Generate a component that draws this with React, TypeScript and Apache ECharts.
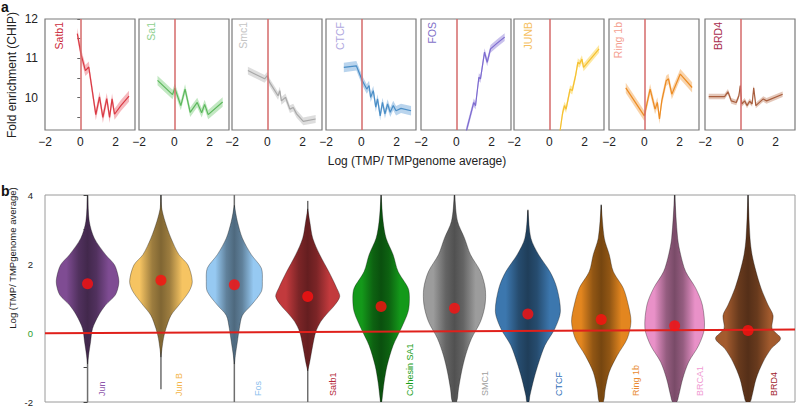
import React, { useEffect, useRef } from 'react';
import * as echarts from 'echarts';

const FONT = '"Liberation Sans", Arial, Helvetica, sans-serif';

// ---------------- Panel a data ----------------
const panelNames = ['Satb1', 'Sa1', 'Smc1', 'CTCF', 'FOS', 'JUNB', 'Ring 1b', 'BRD4'];

const satb1X = [-0.17, 0.04, 0.29, 0.48, 0.88, 1.09, 1.28, 1.5, 1.66, 1.8, 1.94, 2.3, 2.76];
const satb1Y = [11.63, 11.11, 10.69, 10.78, 9.57, 10.02, 9.5, 9.98, 9.5, 9.97, 9.58, 9.8, 10.04];

const sa1X = [-0.95, -0.1, 0.03, 0.37, 0.61, 0.9, 1.3, 1.55, 1.72, 1.92, 2.74];
const sa1Y = [10.44, 10.08, 10.24, 9.8, 10.22, 9.63, 9.88, 9.62, 9.83, 9.57, 9.89];

const smc1X = [-1.1, -0.15, 0.0, 0.13, 0.61, 0.71, 0.8, 1.03, 1.28, 1.47, 1.66, 2.04, 2.74];
const smc1Y = [10.69, 10.48, 10.56, 10.39, 10.05, 10.18, 9.92, 10.01, 9.71, 9.75, 9.59, 9.4, 9.46];

const ctcfX = [-0.99, -0.28, 0.06, 0.31, 0.44, 0.53, 0.68, 0.82, 0.92, 1.07, 1.2, 1.34, 1.49, 1.64, 1.81, 1.97, 2.25, 2.82];
const ctcfY = [10.77, 10.81, 10.43, 10.22, 10.31, 10.01, 10.18, 9.76, 9.97, 9.54, 9.88, 9.59, 9.84, 9.63, 9.8, 9.67, 9.73, 9.67];

const fosX = [0.57, 0.99, 1.09, 1.28, 1.37, 1.6, 1.75, 1.94, 2.3, 2.74];
const fosY = [9.16, 9.88, 9.8, 10.52, 10.48, 11.16, 10.9, 11.24, 11.38, 11.54];

const junbX = [0.61, 0.76, 0.86, 0.95, 1.18, 1.3, 1.49, 1.62, 1.71, 1.85, 1.94, 2.82];
const junbY = [9.16, 9.63, 9.8, 9.71, 10.22, 10.18, 10.56, 10.9, 10.86, 10.98, 10.77, 11.24];

const ring1bX = [-1.05, 0.0, 0.33, 0.61, 0.74, 0.86, 0.99, 1.24, 1.37, 1.56, 2.04, 2.71];
const ring1bY = [10.25, 9.54, 10.22, 9.71, 9.88, 9.46, 9.92, 10.43, 10.48, 10.09, 10.6, 10.26];

const brd4X = [-1.79, -0.89, -0.7, -0.51, -0.23, -0.08, 0.0, 0.08, 0.25, 0.38, 0.53, 0.67, 0.76, 0.88, 1.3, 1.49, 2.4];
const brd4Y = [10.03, 10.03, 10.15, 9.92, 9.88, 10.05, 10.31, 9.84, 9.92, 9.8, 9.91, 9.84, 10.25, 9.8, 9.97, 9.92, 10.09];

const panelXs = [satb1X, sa1X, smc1X, ctcfX, fosX, junbX, ring1bX, brd4X];
const panelYs = [satb1Y, sa1Y, smc1Y, ctcfY, fosY, junbY, ring1bY, brd4Y];
const panelCI = [0.14, 0.12, 0.1, 0.12, 0.1, 0.1, 0.13, 0.07];

const aXTicks = [-2, 0, 2];
const aYLabels = [10, 11, 12];
const aYTicks = [9.5, 10, 10.5, 11, 11.5, 12];

// ---------------- Panel b data ----------------
const violinNames = ['Jun', 'Jun B', 'Fos', 'Satb1', 'Cohesin SA1', 'SMC1', 'CTCF', 'Ring 1b', 'BRCA1', 'BRD4'];
const violinMeans = [1.43, 1.53, 1.4, 1.06, 0.77, 0.72, 0.55, 0.39, 0.21, 0.07];
const whiskerMin = [-2, -1.63, -2, -2, -2, -2, -2, -2, -2, -2];
const whiskerMax = [4, 4, 4, 3.83, 4, 4, 3.57, 3.72, 4, 4];
// [y, density] pairs, top to bottom
const junProfile = [[4, 0], [3.24, 1.7], [2.75, 6.7], [2.27, 18], [1.97, 27], [1.59, 31], [1.39, 31], [1.1, 27.7], [0.81, 18], [0.51, 11], [0.13, 5], [-0.26, 3], [-0.65, 1], [-0.9, 0]];
const junBProfile = [[4, 0], [3.63, 0.7], [3.24, 4], [2.75, 10], [2.27, 18], [1.97, 27], [1.49, 31.3], [1.2, 28], [0.81, 18], [0.51, 10], [0.13, 5], [-0.16, 2.5], [-0.46, 1], [-0.7, 0]];
const fosProfile = [[3.7, 0], [3.24, 3], [2.75, 8], [2.27, 17], [1.88, 27], [1.49, 28], [1.2, 27], [0.81, 17], [0.51, 8], [0.13, 5], [-0.26, 3], [-0.65, 1], [-0.9, 0]];
const satb1Profile = [[3.6, 0], [3.24, 2], [2.75, 5], [2.27, 12], [1.78, 21], [1.3, 29], [1.06, 32], [0.81, 27], [0.55, 19], [0.33, 13], [0.03, 8], [-0.36, 5], [-0.84, 2], [-1.1, 0]];
const cohesinProfile = [[4, 0], [3.24, 2], [2.75, 5], [2.27, 12], [1.78, 17], [1.3, 27], [1.01, 28.3], [0.62, 27], [0.13, 20], [-0.36, 12], [-0.94, 6], [-1.43, 3], [-1.92, 1], [-2, 0.5]];
const smc1Profile = [[4, 0], [3.24, 3], [2.75, 10], [2.27, 16], [1.78, 26], [1.3, 30.7], [0.81, 30.5], [0.33, 26], [-0.16, 17], [-0.65, 11], [-1.13, 7], [-1.62, 4], [-2, 2]];
const ctcfProfile = [[3.55, 0], [2.75, 3], [2.27, 10.7], [1.78, 22], [1.3, 29], [0.62, 32.5], [0.13, 27], [-0.36, 17], [-0.84, 11], [-1.33, 6], [-1.82, 2], [-2, 1]];
const ring1bProfile = [[3.7, 0], [2.75, 3], [2.27, 8], [1.78, 12], [1.3, 22], [0.81, 27], [0.33, 29.7], [-0.16, 26], [-0.65, 16], [-1.13, 8], [-1.62, 4], [-2, 2]];
const brca1Profile = [[4, 0], [2.75, 3], [2.27, 6], [1.78, 11], [1.3, 21], [0.81, 27.7], [0.13, 29.7], [-0.36, 24], [-0.84, 14], [-1.33, 8], [-1.82, 4], [-2, 2]];
const brd4Profile = [[4, 0], [2.75, 2], [2.27, 4], [1.78, 8], [1.3, 13], [0.81, 20], [0.51, 25], [0.13, 24], [-0.16, 32.5], [-0.46, 23], [-0.84, 15], [-1.33, 8], [-1.82, 4], [-2, 2]];
const violinProfiles = [junProfile, junBProfile, fosProfile, satb1Profile, cohesinProfile, smc1Profile, ctcfProfile, ring1bProfile, brca1Profile, brd4Profile];
const baselineY = [-0.01, 0.1];
const bYLabels = [-2, 0, 2, 4];

// ---------------- styles / layout ----------------
const panelLineColors = ['#d93a44', '#5cb85c', '#a8a8a8', '#4a8ec6', '#7d6bd0', '#f5c030', '#ec8b22', '#a85e3e'];
const panelBandColors = ['rgba(235,100,110,0.45)', 'rgba(120,205,120,0.45)', 'rgba(175,175,175,0.42)', 'rgba(100,160,215,0.45)', 'rgba(135,118,212,0.45)', 'rgba(252,210,70,0.5)', 'rgba(242,160,70,0.45)', 'rgba(195,130,100,0.45)'];
const panelLabelColors = ['#cc2c3c', '#8fd08f', '#c4c4c4', '#b0a8e0', '#7f70c8', '#f5c060', '#f4a090', '#a82c4c'];
const A_LEFTS = [45, 139, 232, 326, 421, 514, 609, 705];
const A_LABEL_X = [59, 151, 243, 340, 432, 528, 618, 718];
const A_W = 90;
const A_TOP = 19;
const A_H = 111;

const violinColors = ['#7f4c93', '#f6c462', '#96c9f2', '#c23a3d', '#14991a', '#9c9c9c', '#3c77ae', '#e3861f', '#e991c8', '#a35b2e'];
const violinLabelColors = ['#8d55aa', '#f3b54a', '#8cc0ee', '#b4283a', '#19a019', '#a0a0a0', '#2f6fb8', '#e98a30', '#f09ad2', '#a01a2a'];
const labelDx = [0.2, 0.25, 0.32, 0.35, 0.39, 0.42, 0.42, 0.47, 0.35, 0.35];
const DENSITY_SCALE = 1 / 73.3;
const B_XMIN = -0.58;
const B_XMAX = 9.64;

function minusFmt(v: number) {
  return v < 0 ? '\u2212' + Math.abs(v) : String(v);
}

function shade(hex: string, f: number) {
  const n = parseInt(hex.slice(1), 16);
  const r = Math.round(((n >> 16) & 255) * (1 - f));
  const g = Math.round(((n >> 8) & 255) * (1 - f));
  const b = Math.round((n & 255) * (1 - f));
  return `rgb(${r},${g},${b})`;
}

export default function App() {
  const ref = useRef<HTMLDivElement>(null);
  useEffect(() => {
    if (!ref.current) return;
    const chart = echarts.init(ref.current, undefined, { renderer: 'svg' });

    const grids: any[] = [];
    const xAxes: any[] = [];
    const yAxes: any[] = [];
    const series: any[] = [];
    const graphics: any[] = [];

    for (let k = 0; k < 8; k++) {
      grids.push({ left: A_LEFTS[k], top: A_TOP, width: A_W, height: A_H, show: true, borderColor: '#7a7a7a', borderWidth: 1.2, backgroundColor: 'transparent' });
      xAxes.push({
        gridIndex: k, type: 'value', min: -2, max: 3.1,
        axisLine: { show: false }, axisTick: { show: false }, splitLine: { show: false },
        axisLabel: { customValues: aXTicks, formatter: minusFmt, fontSize: 12, color: '#222', margin: 6, fontFamily: FONT },
      });
      yAxes.push({
        gridIndex: k, type: 'value', min: 9.18, max: 12, show: k === 0,
        axisLine: { show: false }, splitLine: { show: false },
        axisTick: { show: true, customValues: aYTicks, length: 3, lineStyle: { color: '#666' } },
        axisLabel: { customValues: aYLabels, fontSize: 12, color: '#222', margin: 7, fontFamily: FONT },
      });
      const xs = panelXs[k];
      const ys = panelYs[k];
      const ci = panelCI[k];
      series.push({
        type: 'custom', xAxisIndex: k, yAxisIndex: k, clip: true, silent: true, z: 1,
        data: [[0, 10]],
        renderItem: (params: any, api: any) => {
          const up = xs.map((x, j) => api.coord([x, ys[j] + ci]));
          const lo = xs.map((x, j) => api.coord([x, ys[j] - ci])).reverse();
          return { type: 'polygon', shape: { points: up.concat(lo) }, style: { fill: panelBandColors[k] } };
        },
      });
      series.push({
        type: 'line', xAxisIndex: k, yAxisIndex: k, z: 3,
        data: xs.map((x, j) => [x, ys[j]]),
        showSymbol: false, symbol: 'none',
        lineStyle: { color: panelLineColors[k], width: 1.2 },
        markLine: {
          silent: true, symbol: 'none', label: { show: false },
          lineStyle: { color: '#d46a6a', width: 1.5, type: 'solid' },
          data: [{ xAxis: 0 }],
        },
      });
      graphics.push({
        type: 'text', x: A_LABEL_X[k], y: 22, rotation: Math.PI / 2,
        style: { text: panelNames[k], fill: panelLabelColors[k], font: `10.5px ${FONT}`, align: 'right', textAlign: 'right', verticalAlign: 'middle', textVerticalAlign: 'middle' },
      });
    }

    // Panel b
    const bi = 8;
    grids.push({ left: 45, top: 195, width: 750, height: 207, show: true, borderColor: '#9a9a9a', borderWidth: 1, backgroundColor: 'transparent' });
    xAxes.push({ gridIndex: bi, type: 'value', min: B_XMIN, max: B_XMAX, show: false, splitLine: { show: false } });
    yAxes.push({
      gridIndex: bi, type: 'value', min: -2, max: 4, interval: 1, offset: 3,
      axisLine: { show: false }, splitLine: { show: false },
      axisTick: { show: true, length: 4, lineStyle: { color: '#444' } },
      axisLabel: {
        customValues: bYLabels, fontSize: 9.5, color: '#222', margin: 9, fontFamily: FONT,
        formatter: (v: number) => (v === 0 ? '{g|0}' : String(v)),
        rich: { g: { color: '#2ca02c', fontSize: 9.5, fontFamily: FONT } },
      },
    });
    series.push({
      type: 'custom', xAxisIndex: bi, yAxisIndex: bi, clip: true, silent: true, z: 2,
      data: violinNames.map((_, i) => [i, violinMeans[i]]),
      renderItem: (params: any, api: any) => {
        const i = api.value(0);
        const prof = violinProfiles[i];
        const right: number[][] = [];
        const left: number[][] = [];
        for (const [y, d] of prof) {
          const c = api.coord([i, y]);
          const half = api.size([d * DENSITY_SCALE, 0])[0];
          right.push([c[0] + half, c[1]]);
          left.unshift([c[0] - half, c[1]]);
        }
        const base = violinColors[i];
        const fill = new echarts.graphic.LinearGradient(0, 0, 1, 0, [
          { offset: 0, color: base },
          { offset: 0.16, color: base },
          { offset: 0.36, color: shade(base, 0.36) },
          { offset: 0.5, color: shade(base, 0.48) },
          { offset: 0.64, color: shade(base, 0.36) },
          { offset: 0.84, color: base },
          { offset: 1, color: base },
        ]);
        const top = api.coord([i, whiskerMax[i]]);
        const bot = api.coord([i, whiskerMin[i]]);
        const lab = api.coord([i + labelDx[i], -2]);
        return {
          type: 'group',
          children: [
            { type: 'line', shape: { x1: top[0], y1: top[1], x2: bot[0], y2: bot[1] }, style: { stroke: '#6e6e6e', lineWidth: 1.5 } },
            { type: 'polygon', shape: { points: right.concat(left), smooth: 0.3 }, style: { fill, stroke: 'rgba(0,0,0,0.45)', lineWidth: 0.7 } },
            { type: 'text', x: lab[0], y: lab[1] - 6, rotation: Math.PI / 2, style: { text: violinNames[i], fill: violinLabelColors[i], fontSize: 9, fontFamily: FONT, align: 'left', verticalAlign: 'middle' } },
          ],
        };
      },
    });
    series.push({
      type: 'line', xAxisIndex: bi, yAxisIndex: bi, z: 3, silent: true,
      data: [[B_XMIN, baselineY[0]], [B_XMAX, baselineY[1]]],
      showSymbol: false, symbol: 'none',
      lineStyle: { color: '#e0201b', width: 2 },
    });
    series.push({
      type: 'scatter', xAxisIndex: bi, yAxisIndex: bi, z: 4, silent: true,
      data: violinMeans.map((m, i) => [i, m]),
      symbolSize: 11,
      itemStyle: { color: '#ff1010' },
    });

    graphics.push(
      { type: 'text', x: 1, y: 14, style: { text: 'a', fill: '#111', font: `bold 14px ${FONT}`, align: 'left', textAlign: 'left', verticalAlign: 'bottom', textVerticalAlign: 'bottom' } },
      { type: 'text', x: 1, y: 198, style: { text: 'b', fill: '#111', font: `bold 14px ${FONT}`, align: 'left', textAlign: 'left', verticalAlign: 'bottom', textVerticalAlign: 'bottom' } },
      { type: 'text', x: 12, y: 75, rotation: Math.PI / 2, style: { text: 'Fold enrichment (CHIP)', fill: '#222', font: `12px ${FONT}`, align: 'center', textAlign: 'center', verticalAlign: 'middle', textVerticalAlign: 'middle' } },
      { type: 'text', x: 417, y: 161, style: { text: 'Log (TMP/ TMPgenome average)', fill: '#222', font: `12px ${FONT}`, align: 'center', textAlign: 'center', verticalAlign: 'middle', textVerticalAlign: 'middle' } },
      { type: 'text', x: 12, y: 258, rotation: Math.PI / 2, style: { text: 'Log (TMP/ TMPgenome average)', fill: '#222', font: `9.5px ${FONT}`, align: 'center', textAlign: 'center', verticalAlign: 'middle', textVerticalAlign: 'middle' } },
    );

    chart.setOption({
      animation: false,
      textStyle: { fontFamily: FONT },
      grid: grids,
      xAxis: xAxes,
      yAxis: yAxes,
      series,
      graphic: { elements: graphics },
    });
    return () => chart.dispose();
  }, []);
  return <div ref={ref} style={{ position: 'absolute', left: 0, top: 0, width: 797, height: 407 }} />;
}
